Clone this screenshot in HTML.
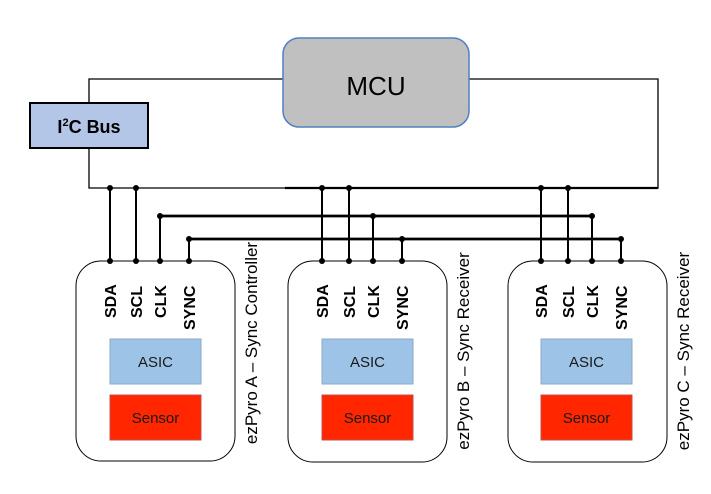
<!DOCTYPE html>
<html><head><meta charset="utf-8"><style>body{margin:0;background:#fff}svg{display:block}</style></head><body>
<svg width="711" height="494" viewBox="0 0 711 494" xmlns="http://www.w3.org/2000/svg" font-family="Liberation Sans, sans-serif">
<g stroke="#000" fill="none">
<path d="M283 79 H89 V188 H658 V79 H469" stroke-width="1.3"/>
<path d="M285 188 H658" stroke-width="2.2"/>
<path d="M160 216 H592" stroke-width="2.8"/>
<path d="M189 239 H621" stroke-width="2.8"/>
</g>
<rect x="30" y="103" width="118" height="45" fill="#b4c6e7" stroke="#000" stroke-width="2"/>
<text x="89" y="133" text-anchor="middle" font-size="18" font-weight="bold">I<tspan font-size="11" dy="-7">2</tspan><tspan dy="7">C Bus</tspan></text>
<rect x="283" y="38" width="186" height="89" rx="16" fill="#c0c0c0" stroke="#4f81bd" stroke-width="1.5"/>
<text x="376" y="95" text-anchor="middle" font-size="26">MCU</text>
<g>
<rect x="76" y="261" width="159" height="200" rx="25" fill="#fff" stroke="#000" stroke-width="1"/>
<rect x="288" y="261" width="159" height="201" rx="25" fill="#fff" stroke="#000" stroke-width="1"/>
<rect x="508" y="261" width="159" height="201" rx="25" fill="#fff" stroke="#000" stroke-width="1"/>
</g>
<g stroke="#000" stroke-width="2">
<path d="M110 188V261M136 188V261M160 216V261M189 239V261"/>
<path d="M322 188V261M349 188V261M373 216V261M402 239V261"/>
<path d="M541 188V261M568 188V261M592 216V261M621 239V261"/>
</g>
<g fill="#000">
<circle cx="110" cy="188" r="3"/><circle cx="136" cy="188" r="3"/><circle cx="160" cy="216" r="3"/><circle cx="189" cy="239" r="3"/>
<circle cx="110" cy="261" r="3"/><circle cx="136" cy="261" r="3"/><circle cx="160" cy="261" r="3"/><circle cx="189" cy="261" r="3"/>
<circle cx="322" cy="188" r="3"/><circle cx="349" cy="188" r="3"/><circle cx="373" cy="216" r="3"/><circle cx="402" cy="239" r="3"/>
<circle cx="322" cy="261" r="3"/><circle cx="349" cy="261" r="3"/><circle cx="373" cy="261" r="3"/><circle cx="402" cy="261" r="3"/>
<circle cx="541" cy="188" r="3"/><circle cx="568" cy="188" r="3"/><circle cx="592" cy="216" r="3"/><circle cx="621" cy="239" r="3"/>
<circle cx="541" cy="261" r="3"/><circle cx="568" cy="261" r="3"/><circle cx="592" cy="261" r="3"/><circle cx="621" cy="261" r="3"/>
</g>
<g font-size="16" font-weight="bold" text-anchor="start">
<text transform="translate(116,318) rotate(-90)">SDA</text>
<text transform="translate(142,318) rotate(-90)">SCL</text>
<text transform="translate(166,318) rotate(-90)">CLK</text>
<text transform="translate(195,330) rotate(-90)">SYNC</text>
<text transform="translate(328,318) rotate(-90)">SDA</text>
<text transform="translate(355,318) rotate(-90)">SCL</text>
<text transform="translate(379,318) rotate(-90)">CLK</text>
<text transform="translate(408,330) rotate(-90)">SYNC</text>
<text transform="translate(547,318) rotate(-90)">SDA</text>
<text transform="translate(574,318) rotate(-90)">SCL</text>
<text transform="translate(598,318) rotate(-90)">CLK</text>
<text transform="translate(627,330) rotate(-90)">SYNC</text>
</g>
<g stroke="#8ea9c8" stroke-width="1">
<rect x="110" y="339" width="91" height="45" fill="#9dc3e6"/>
<rect x="322" y="339" width="91" height="45" fill="#9dc3e6"/>
<rect x="541" y="339" width="91" height="45" fill="#9dc3e6"/>
</g>
<g stroke="#c0504d" stroke-width="1">
<rect x="110" y="395" width="91" height="45" fill="#ff2600"/>
<rect x="322" y="395" width="91" height="45" fill="#ff2600"/>
<rect x="541" y="395" width="91" height="45" fill="#ff2600"/>
</g>
<g font-size="15" text-anchor="middle" fill="#1a1a1a">
<text x="155.5" y="367">ASIC</text><text x="367.5" y="367">ASIC</text><text x="586.5" y="367">ASIC</text>
<text x="155.5" y="423">Sensor</text><text x="367.5" y="423">Sensor</text><text x="586.5" y="423">Sensor</text>
</g>
<g font-size="17" text-anchor="middle">
<text transform="translate(257,343) rotate(-90)">ezPyro A – Sync Controller</text>
<text transform="translate(469,351) rotate(-90)">ezPyro B – Sync Receiver</text>
<text transform="translate(689,351) rotate(-90)">ezPyro C – Sync Receiver</text>
</g>
</svg>
</body></html>
